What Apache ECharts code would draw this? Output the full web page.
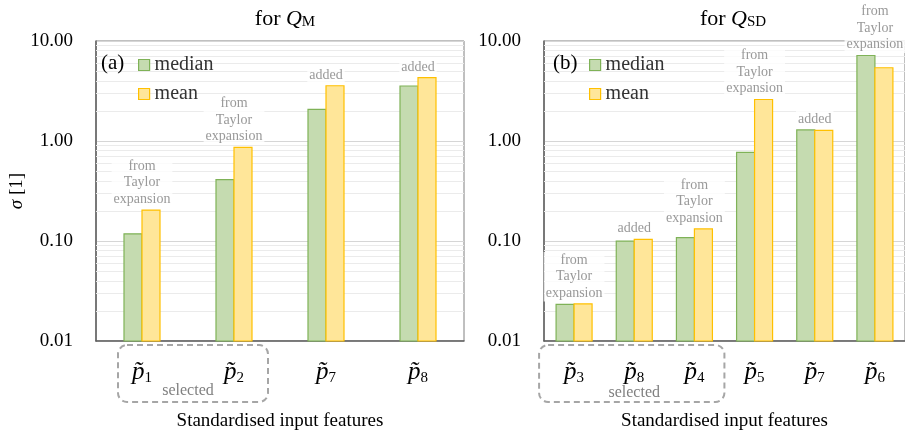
<!DOCTYPE html>
<html><head><meta charset="utf-8">
<script src="https://cdn.jsdelivr.net/npm/echarts@6/dist/echarts.min.js"></script>
<style>html,body{margin:0;padding:0;background:#fff}#c{width:905px;height:437px}</style>
</head><body><div id="c"></div>
<script>
// ---- data ----
const catsA = ['1', '2', '7', '8'];
const medianA = [0.118, 0.41, 2.07, 3.55];
const meanA = [0.204, 0.865, 3.57, 4.3];
const noteA = ['from\nTaylor\nexpansion', 'from\nTaylor\nexpansion', 'added', 'added'];
const selectedA = 2;

const catsB = ['3', '8', '4', '5', '7', '6'];
const medianB = [0.0232, 0.0995, 0.108, 0.77, 1.29, 7.16];
const meanB = [0.0235, 0.104, 0.132, 2.6, 1.28, 5.4];
const noteB = ['from\nTaylor\nexpansion', 'added', 'from\nTaylor\nexpansion', 'from\nTaylor\nexpansion', 'added', 'from\nTaylor\nexpansion'];
const selectedB = 3;

const yMin = 0.01, yMax = 10;
const seriesNames = ['median', 'mean'];

// ---- style ----
const FONT = '"Liberation Serif", "Times New Roman", serif';
const GREEN = '#c5dbb0', GREEN_B = '#7fb257';
const YEL = '#ffe699', YEL_B = '#ffc000';
const BAR_W = 18;

const minorVals = [];
for (let d = yMin; d < yMax * 0.999; d *= 10) {
  for (let k = 2; k <= 9; k++) minorVals.push(+(d * k).toPrecision(3));
}

function xAxis(grid, cats) {
  return {
    type: 'category', gridIndex: grid, data: cats,
    axisLine: { lineStyle: { color: '#606060', width: 1.5 } },
    axisTick: { show: false },
    axisLabel: {
      margin: 17, interval: 0,
      formatter: v => '{p|p\u0303}{s|' + v + '}',
      rich: {
        p: { fontFamily: FONT, fontStyle: 'italic', fontSize: 25, lineHeight: 28, color: '#000' },
        s: { fontFamily: FONT, fontSize: 15, lineHeight: 15, verticalAlign: 'bottom', color: '#000' }
      }
    },
    name: 'Standardised input features', nameLocation: 'middle', nameGap: 71,
    nameTextStyle: { fontFamily: FONT, fontSize: 19, color: '#000' }
  };
}

function yAxis(grid, withName) {
  const ax = {
    type: 'log', logBase: 10, gridIndex: grid, min: yMin, max: yMax,
    axisLine: { show: true, lineStyle: { color: '#606060', width: 1.5 } },
    axisTick: { show: false },
    axisLabel: { margin: 23, fontFamily: FONT, fontSize: 19, color: '#000', formatter: v => (+v).toFixed(2) },
    splitLine: { show: true, lineStyle: { color: '#d6d6d6', width: 1 } }
  };
  if (withName) {
    ax.name = '{i|σ} [1]';
    ax.nameLocation = 'middle';
    ax.nameGap = 63;
    ax.nameTextStyle = { fontFamily: FONT, fontSize: 19, color: '#000', rich: { i: { fontFamily: FONT, fontStyle: 'italic', fontSize: 19, color: '#000' } } };
  }
  return ax;
}

// bars drawn from the bottom of the log axis through the axis scales
function bars(name, axis, vals, isMean) {
  return {
    name: name, type: 'custom', xAxisIndex: axis, yAxisIndex: axis, z: 3,
    itemStyle: { color: isMean ? YEL : GREEN, borderColor: isMean ? YEL_B : GREEN_B, borderWidth: 1.2 },
    encode: { x: 0, y: 1 },
    data: vals.map((v, i) => [i, v]),
    renderItem: function (params, api) {
      const top = api.coord([api.value(0), api.value(1)]);
      const base = api.coord([api.value(0), yMin]);
      const x = isMean ? top[0] : top[0] - BAR_W;
      return {
        type: 'rect',
        shape: { x: x, y: top[1], width: BAR_W, height: base[1] - top[1] },
        style: { fill: isMean ? YEL : GREEN, stroke: isMean ? YEL_B : GREEN_B, lineWidth: 1.2 }
      };
    }
  };
}

// annotation texts above the taller bar of each pair (plus minor log grid lines)
function notes(axis, med, mean, txt) {
  return {
    name: 'notes', type: 'scatter', xAxisIndex: axis, yAxisIndex: axis, z: 4,
    symbol: 'rect', symbolSize: 1, itemStyle: { color: 'rgba(255,255,255,0)' }, silent: true,
    data: med.map((v, i) => [i, Math.max(v, mean[i])]),
    label: {
      show: true, position: 'top', distance: 2,
      formatter: p => txt[p.dataIndex],
      fontFamily: FONT, fontSize: 14, lineHeight: 16.5, color: '#808080',
      backgroundColor: '#fff', padding: [0, 2]
    },
    markLine: {
      silent: true, symbol: 'none', z: 1, animation: false,
      label: { show: false },
      lineStyle: { color: '#ebebeb', width: 1, type: 'solid' },
      data: minorVals.map(v => ({ yAxis: v }))
    }
  };
}

const richTitle = {
  a: { fontFamily: FONT, fontSize: 22, fontWeight: 'normal', color: '#000' },
  q: { fontFamily: FONT, fontStyle: 'italic', fontWeight: 'normal', fontSize: 22, color: '#000' },
  s: { fontFamily: FONT, fontSize: 15, fontWeight: 'normal', verticalAlign: 'bottom', lineHeight: 15, color: '#000' }
};

const chart = echarts.init(document.getElementById('c'), null, { renderer: 'canvas' });
const option = {
  animation: false,
  backgroundColor: '#fff',
  title: [
    { text: '{a|for }{q|Q}{s|M}', left: 280, top: 3, textAlign: 'center', textStyle: { fontWeight: 'normal', rich: richTitle } },
    { text: '{a|for }{q|Q}{s|SD}', left: 728, top: 3, textAlign: 'center', textStyle: { fontWeight: 'normal', rich: richTitle } },
    { text: '(a)', left: 96, top: 48, textStyle: { fontFamily: FONT, fontSize: 21, fontWeight: 'normal', color: '#000' } },
    { text: '(b)', left: 548, top: 48, textStyle: { fontFamily: FONT, fontSize: 21, fontWeight: 'normal', color: '#000' } }
  ],
  legend: [
    { data: seriesNames, left: 133, top: 50, orient: 'vertical', itemWidth: 11, itemHeight: 11, itemGap: 9, icon: 'rect',
      itemStyle: { borderWidth: 1.2 },
      textStyle: { fontFamily: FONT, fontSize: 20, lineHeight: 20, color: '#333' } },
    { data: seriesNames, left: 584, top: 50, orient: 'vertical', itemWidth: 11, itemHeight: 11, itemGap: 9, icon: 'rect',
      itemStyle: { borderWidth: 1.2 },
      textStyle: { fontFamily: FONT, fontSize: 20, lineHeight: 20, color: '#333' } }
  ],
  grid: [
    { left: 96, top: 41, width: 368, height: 300, show: true, borderColor: '#808080', borderWidth: 1 },
    { left: 544, top: 41, width: 368, height: 300, show: true, borderColor: '#808080', borderWidth: 1 }
  ],
  xAxis: [xAxis(0, catsA), xAxis(1, catsB)],
  yAxis: [yAxis(0, true), yAxis(1, false)],
  series: [
    bars('median', 0, medianA, false),
    bars('mean', 0, meanA, true),
    notes(0, medianA, meanA, noteA),
    bars('median', 1, medianB, false),
    bars('mean', 1, meanB, true),
    notes(1, medianB, meanB, noteB)
  ]
};
chart.setOption(option);

// selection boxes, positioned from the axes
function selGraphic(grid, n, padL, padR, textDy) {
  const first = chart.convertToPixel({ gridIndex: grid }, [0, yMin]);
  const last = chart.convertToPixel({ gridIndex: grid }, [n - 1, yMin]);
  const x0 = first[0] - padL, x1 = last[0] + padR;
  const y0 = first[1] + 4, y1 = first[1] + 61;
  return [
    { type: 'rect', shape: { x: x0, y: y0, width: x1 - x0, height: y1 - y0, r: 9 },
      style: { fill: 'none', stroke: '#a6a6a6', lineWidth: 2, lineDash: [6, 4] }, silent: true },
    { type: 'text', x: (first[0] + last[0]) / 2, y: first[1] + textDy,
      style: { text: 'selected', font: '16px ' + FONT, fill: '#808080', align: 'center', verticalAlign: 'middle' }, silent: true }
  ];
}
chart.setOption({ graphic: [].concat(selGraphic(0, selectedA, 24, 34, 50), selGraphic(1, selectedB, 35, 30, 52)) });
</script></body></html>
